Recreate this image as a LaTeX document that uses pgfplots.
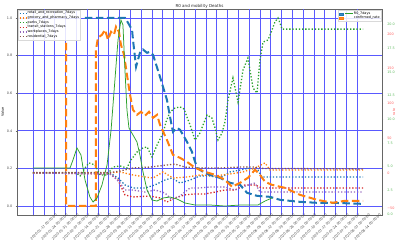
\documentclass[border=0pt]{standalone}
\usepackage{fontspec}
\setmainfont{DejaVu Sans}
\usepackage{pgfplots}
\pgfplotsset{compat=1.18}
\definecolor{c0}{HTML}{1F77B4}
\definecolor{c1}{HTML}{FF7F0E}
\definecolor{c2}{HTML}{2CA02C}
\definecolor{c3}{HTML}{D62728}
\definecolor{c4}{HTML}{9467BD}
\definecolor{c5}{HTML}{8C564B}
\definecolor{gridblue}{rgb}{0.35,0.35,1}
\definecolor{lightgrid}{rgb}{0.80,0.80,1}
\definecolor{redlab}{HTML}{FF5A5A}
\definecolor{greenlab}{HTML}{5CB85C}
\newcommand{\fs}{\fontsize{3.4}{4}\selectfont}
\begin{document}
\begin{tikzpicture}
\useasboundingbox (-17bp,-35bp) rectangle (383bp,215bp);
\pgfplotsset{every axis/.append style={scale only axis, width=365bp, height=206bp,
  xmin=-10.37, xmax=226.2, font=\fs,
  axis line style={black!60, line width=0.5bp},
  tick style={line width=0.4bp}, major tick length=1.3bp, tick align=outside,
  /pgf/number format/assume math mode=true}}
% ---------------- main (mobility) axis ----------------
\begin{axis}[
  ymin=-0.048, ymax=1.048,
  xtick={0,7,...,210},
  xticklabels={2020-01-17 00:00:00,2020-01-24 00:00:00,2020-01-31 00:00:00,2020-02-07 00:00:00,2020-02-14 00:00:00,2020-02-21 00:00:00,2020-02-28 00:00:00,2020-03-06 00:00:00,2020-03-13 00:00:00,2020-03-20 00:00:00,2020-03-27 00:00:00,2020-04-03 00:00:00,2020-04-10 00:00:00,2020-04-17 00:00:00,2020-04-24 00:00:00,2020-05-01 00:00:00,2020-05-08 00:00:00,2020-05-15 00:00:00,2020-05-22 00:00:00,2020-05-29 00:00:00,2020-06-05 00:00:00,2020-06-12 00:00:00,2020-06-19 00:00:00,2020-06-26 00:00:00,2020-07-03 00:00:00,2020-07-10 00:00:00,2020-07-17 00:00:00,2020-07-24 00:00:00,2020-07-31 00:00:00,2020-08-07 00:00:00,2020-08-14 00:00:00},
  xticklabel style={rotate=45, anchor=center, yshift=-15bp, text=black!70},
  ytick={0,0.2,0.4,0.6,0.8,1.0},
  yticklabel style={/pgf/number format/.cd, fixed, fixed zerofill, precision=1, /tikz/.cd, text=black!70},
  tick pos=left, tick style={black!60},
  xmajorgrids, ymajorgrids,
  major grid style={gridblue, line width=0.6bp},
  extra x ticks={7,35,70,105,140,175,210},
  extra x tick labels={},
  extra x tick style={grid style={lightgrid, line width=2.2bp}, major tick length=0pt},
  ylabel={Value}, ylabel style={font=\fs, yshift=-4bp},
  title={R0 and mobility Deaths},
  every axis title/.style={at={(0.5,1)}, anchor=south, yshift=0.3bp, inner sep=0.6bp, font=\fontsize{4.1}{5}\selectfont, text=black!85},
  legend cell align=left,
  legend style={at={(0.003,0.995)}, anchor=north west, font=\fs, draw=black!15,
    fill=white, fill opacity=0.85, text opacity=1, inner sep=0.6bp, row sep=-0.4bp,
    nodes={inner sep=0.5bp}},
  legend image code/.code={\draw[#1] (0bp,0bp) -- (7bp,0bp);},
  every axis plot/.append style={line width=1.3bp, dash pattern=on 1.3bp off 1.9bp}
]
\addplot[c0] coordinates {(0,0.176)(49.9,0.176)(55.1,0.149)(59.6,0.112)(64.8,0.096)(72.6,0.096)(79.1,0.112)(85.5,0.138)(90.1,0.149)(95.3,0.122)(101.8,0.138)(108.2,0.160)(114.7,0.160)(121.2,0.149)(127.7,0.181)(134.2,0.191)(140.6,0.202)(145.8,0.191)(148.4,0.154)(213.9,0.154)};
\addlegendentry{retail\_and\_recreation\_7days}
\addplot[c1] coordinates {(0,0.176)(49.9,0.176)(56.4,0.181)(64.8,0.165)(72.6,0.154)(77.8,0.149)(84.3,0.181)(90.7,0.149)(99.8,0.154)(108.2,0.165)(118.0,0.160)(127.7,0.170)(136.1,0.181)(143.9,0.202)(150.4,0.229)(153.6,0.191)(213.9,0.191)};
\addlegendentry{grocery\_and\_pharmacy\_7days}
\addplot[c2] coordinates {(0,0.176)(28,0.176)(30.5,0.160)(33.7,0.202)(36.3,0.229)(40.2,0.218)(43.4,0.165)(48.0,0.165)(51.8,0.207)(56.4,0.213)(60.9,0.202)(63.5,0.245)(67.4,0.287)(71.3,0.309)(73.9,0.314)(77.1,0.261)(80.4,0.324)(84.3,0.388)(86.2,0.447)(88.8,0.500)(92.0,0.521)(95.3,0.527)(97.9,0.516)(99.8,0.473)(101.8,0.431)(105.0,0.351)(108.2,0.388)(110.2,0.431)(112.8,0.484)(116.0,0.468)(118.0,0.415)(119.9,0.351)(122.5,0.388)(124.4,0.447)(126.4,0.564)(129.6,0.681)(132.9,0.553)(136.1,0.723)(139.3,0.787)(142.6,0.628)(145.2,0.601)(147.1,0.777)(149.1,0.872)(152.3,0.883)(154.9,0.936)(156.8,0.979)(158.8,1.000)(160.1,0.973)(161.4,0.941)(213.9,0.941)};
\addlegendentry{parks\_7days}
\addplot[c3] coordinates {(0,0.176)(49.9,0.170)(55.1,0.138)(59.6,0.059)(64.8,0.048)(75.8,0.053)(82.3,0.043)(86.8,0.021)(92.0,0.043)(98.5,0.059)(105.0,0.064)(111.5,0.064)(118.0,0.074)(124.4,0.085)(130.9,0.085)(137.4,0.112)(143.9,0.112)(148.4,0.096)(213.9,0.096)};
\addlegendentry{transit\_stations\_7days}
\addplot[c4] coordinates {(0,0.176)(49.9,0.170)(53.1,0.149)(56.4,0.122)(59.6,0.085)(64.8,0.085)(72.6,0.074)(79.1,0.085)(85.5,0.069)(90.1,0.032)(95.3,0.053)(101.8,0.096)(108.2,0.096)(114.7,0.101)(124.4,0.101)(130.9,0.085)(137.4,0.106)(143.9,0.122)(147.1,0.074)(153.6,0.074)(213.9,0.074)};
\addlegendentry{workplaces\_7days}
\addplot[c5] coordinates {(0,0.178)(49.9,0.178)(56.4,0.186)(64.8,0.202)(75.8,0.207)(86.8,0.218)(92.0,0.223)(98.5,0.207)(108.2,0.202)(121.2,0.202)(134.2,0.207)(143.9,0.207)(148.4,0.200)(213.9,0.197)};
\addlegendentry{residential\_7days}
\end{axis}
% ---------------- red axis (deaths / confirmed rate) ----------------
\begin{axis}[
  ymin=-60.3, ymax=235.6,
  hide x axis, axis y line*=right,
  ytick={-50,0,50,100,150,200},
  yticklabels={−50,0,50,100,150,200},
  yticklabel style={text=redlab, xshift=0.5bp},
  ytick style={redlab},
  ylabel={rate},
  every axis y label/.style={at={(rel axis cs:1,0.5)}, anchor=center, xshift=12bp, rotate=90, font=\fs, text=redlab},
  legend cell align=left,
  legend style={at={(0.997,0.993)}, anchor=north east, font=\fs, draw=black!15,
    fill=white, fill opacity=0.85, text opacity=1, inner sep=0.6bp, row sep=-0.4bp,
    nodes={inner sep=0.5bp}},
]
\addplot[c0, line width=2bp, dash pattern=on 7.5bp off 3.5bp, forget plot] coordinates {(33.7,223.0)(59.6,223.0)(61.6,215.8)(64.2,205.7)(64.8,191.4)(66.8,152.6)(69.3,172.7)(71.3,177.3)(73.9,172.7)(75.8,174.1)(77.8,169.8)(82.3,138.2)(86.8,105.2)(88.8,80.7)(90.7,59.2)(93.3,64.9)(95.3,62.1)(99.8,44.8)(103.0,30.5)(106.3,7.5)(110.2,1.7)(114.7,-2.6)(121.2,-6.9)(127.7,-14.1)(134.2,-17.0)(138.7,-28.4)(145.2,-32.8)(153.6,-34.2)(160.1,-38.5)(173.0,-41.4)(184.1,-42.8)(194.4,-42.8)(213.9,-44.3)};
\addplot[c1, line width=2bp, dash pattern=on 7.5bp off 3.5bp, forget plot] coordinates {(21.4,187.1)(21.4,-47.1)(40.8,-47.1)(40.8,177.0)(42.1,194.3)(44.7,198.6)(46.7,205.7)(48.6,191.4)(50.6,202.9)(52.5,198.6)(53.8,210.1)(55.7,202.9)(57.0,184.2)(59.0,169.8)(60.9,141.1)(62.9,112.4)(64.8,90.8)(67.4,83.6)(70.0,88.0)(72.6,82.2)(75.2,88.0)(77.8,79.3)(80.4,83.6)(82.3,69.3)(86.8,47.7)(90.7,26.1)(95.3,21.8)(99.8,16.1)(105.0,7.5)(111.5,1.7)(118.0,-2.6)(124.4,-9.8)(129.0,-19.8)(134.2,-14.1)(139.3,-6.9)(143.9,4.6)(147.1,-2.6)(150.4,-12.6)(154.9,-17.0)(163.3,-21.3)(173.0,-31.3)(184.1,-38.5)(194.4,-42.8)(202.2,-39.9)(213.9,-39.9)};
\addlegendimage{legend image code/.code={\fill[c0] (0bp,-1bp) rectangle (4bp,1bp); \draw[c2, line width=0.8bp] (6bp,0bp) -- (14bp,0bp);}}
\addlegendentry{R0\_7days}
\addlegendimage{legend image code/.code={\fill[c1] (0bp,-1bp) rectangle (4bp,1bp);}}
\addlegendentry{confirmed\_rate}
\end{axis}
% ---------------- green axis (R0) ----------------
\begin{axis}[
  ymin=-0.105, ymax=21.62,
  hide x axis, axis y line*=right,
  ytick={0,2.5,...,20},
  yticklabel style={/pgf/number format/.cd, fixed, fixed zerofill, precision=1, /tikz/.cd, text=greenlab, xshift=0.5bp},
  ytick style={greenlab},
]
\addplot[c2, line width=0.75bp] coordinates {(0,4.85)(24.0,4.85)(25.9,5.70)(28.5,6.96)(31.1,6.22)(33.7,3.59)(36.9,1.79)(38.9,1.27)(41.5,1.69)(44.7,3.06)(48.0,5.17)(50.6,8.86)(53.1,14.14)(55.1,18.35)(57.0,20.46)(58.3,19.94)(59.6,15.19)(60.9,10.97)(62.2,9.07)(64.8,8.33)(67.4,7.59)(69.3,6.22)(71.3,4.43)(73.9,2.53)(77.1,1.48)(80.4,1.37)(84.3,1.69)(88.8,1.79)(93.3,1.58)(98.5,1.16)(105.0,0.95)(114.7,0.95)(124.4,0.84)(134.2,0.95)(145.8,0.95)(150.4,1.37)(154.9,1.69)};
\end{axis}
\end{tikzpicture}
\end{document}
